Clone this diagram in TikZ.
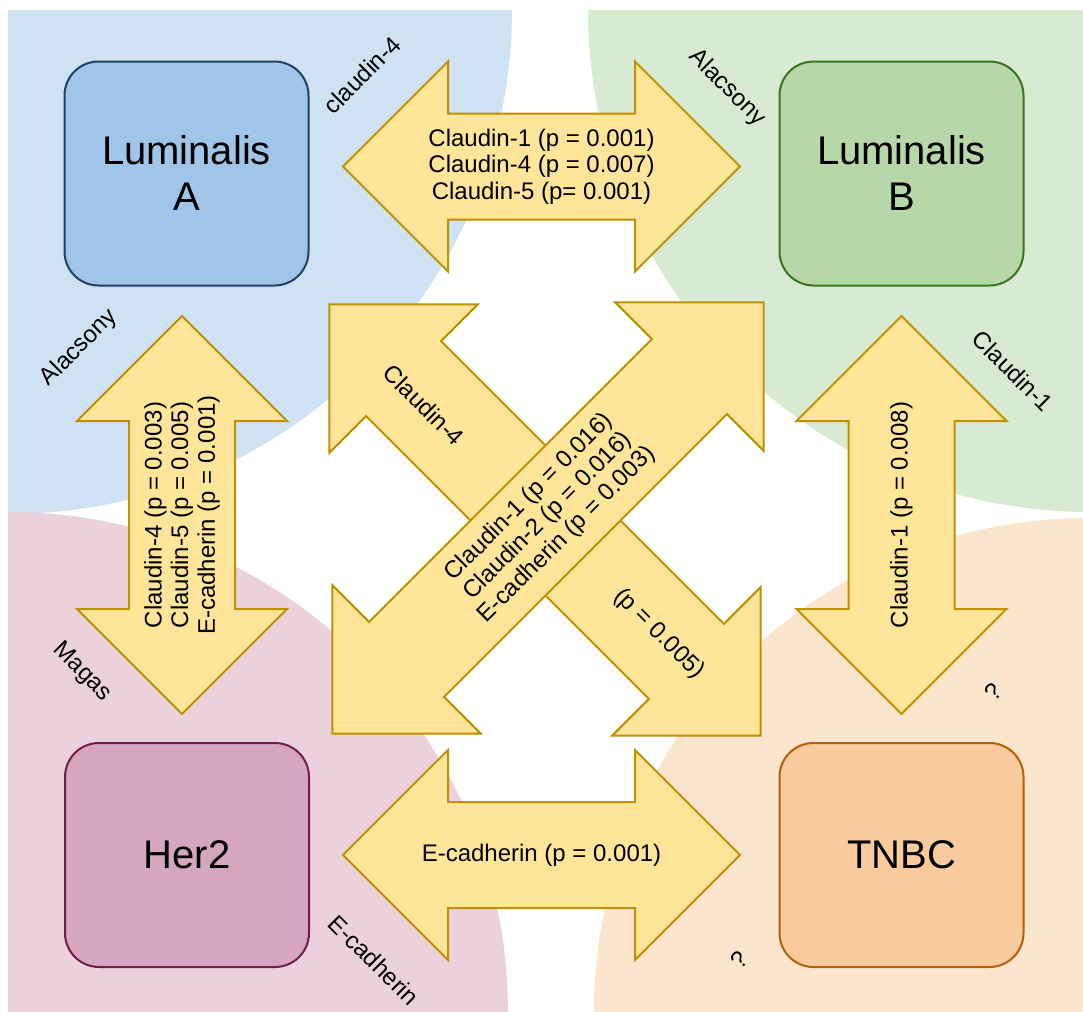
\documentclass[tikz,border=0pt]{standalone}
\usepackage{fontspec}
\setmainfont{Liberation Sans}
\definecolor{bgblue}{HTML}{CFE2F3}
\definecolor{bggreen}{HTML}{D9EAD3}
\definecolor{bgpink}{HTML}{EAD1DC}
\definecolor{bgorange}{HTML}{FCE5CD}
\definecolor{arrowfill}{HTML}{FFE599}
\definecolor{arrowline}{HTML}{BF9000}
\newcommand\dblarrow[3]{% centre, angle, half length
  \draw[arrowbody, shift={#1}, rotate=#2]
    (-#3,0) -- ({-#3+105},-105) -- ({-#3+105},-53) -- ({#3-105},-53)
    -- ({#3-105},-105) -- (#3,0) -- ({#3-105},105) -- ({#3-105},53)
    -- ({-#3+105},53) -- ({-#3+105},105) -- cycle;}
\begin{document}
\begin{tikzpicture}[x=0.5pt, y=-0.5pt,
  box/.style = {shape=rectangle, rounded corners=17pt, draw, line width=1pt,
    minimum width=122pt, minimum height=112pt, align=center,
    font=\fontsize{20}{23}\selectfont},
  arrowbody/.style = {draw=arrowline, fill=arrowfill, line width=1pt},
  txt/.style = {align=center, inner sep=0pt, font=\fontsize{12}{13.3}\selectfont}]
  \useasboundingbox (0,0) rectangle (1083,1012);
  % background quarters
  \begin{scope}
    \clip (8,10) rectangle (1083,1012);
    \fill[bgblue] (8,10) circle[radius=504];
    \fill[bggreen] (1090,10) circle[radius=502];
    \fill[bgpink] (8,1012) circle[radius=500];
    \fill[bgorange] (1088,1012) circle[radius=494];
  \end{scope}
  % subtypes
  \node[box, fill={rgb,255:red,159;green,197;blue,232}, draw={rgb,255:red,31;green,65;blue,102}]
    (lumA) at (186.5,173.5) {Luminalis\\A};
  \node[box, fill={rgb,255:red,182;green,215;blue,168}, draw={rgb,255:red,56;green,118;blue,29}]
    (lumB) at (901.5,173.5) {Luminalis\\B};
  \node[box, fill={rgb,255:red,213;green,166;blue,189}, draw={rgb,255:red,116;green,27;blue,71}]
    (her2) at (187,855) {Her2};
  \node[box, fill={rgb,255:red,249;green,203;blue,156}, draw={rgb,255:red,180;green,95;blue,6}]
    (tnbc) at (901.5,855) {TNBC};
  % block arrows
  \dblarrow{(541.5,166.5)}{0}{198.5}
  \dblarrow{(541.5,855)}{0}{198.5}
  \dblarrow{(182,515)}{90}{199}
  \dblarrow{(901.5,515)}{90}{199}
  \dblarrow{(545,520)}{-45}{305}
  \dblarrow{(548,518)}{45}{305}
  % arrow texts
  \node[txt] (tAB) at (541.5,166.5) {Claudin-1 (p = 0.001)\\Claudin-4 (p = 0.007)\\Claudin-5 (p= 0.001)};
  \node[txt] (tHT) at (541.5,855) {E-cadherin (p = 0.001)};
  \node[txt, rotate=90] (tAH) at (182,515) {Claudin-4 (p = 0.003)\\Claudin-5 (p = 0.005)\\E-cadherin (p = 0.001)};
  \node[txt, rotate=90] (tBT) at (901.5,515) {Claudin-1 (p = 0.008)};
  \node[txt, rotate=-45] (tAT1) at (424,405) {Claudin-4};
  \node[txt, rotate=-45] (tAT2) at (659,634) {(p = 0.005)};
  \node[txt, rotate=45] (tHB) at (548,516) {Claudin-1 (p = 0.016)\\Claudin-2 (p = 0.016)\\E-cadherin (p = 0.003)};
  % side labels
  \node[txt, rotate=45] (lA1) at (362,75) {claudin-4};
  \node[txt, rotate=-45] (lB1) at (727,88) {Alacsony};
  \node[txt, rotate=45] (lA2) at (79,348) {Alacsony};
  \node[txt, rotate=-45] (lB2) at (1013,371) {Claudin-1};
  \node[txt, rotate=-45] (lH1) at (82,672) {Magas};
  \node[txt, rotate=-45] (lH2) at (374,960) {E-cadherin};
  \node[txt, rotate=45] (lT1) at (993,692) {?};
  \node[txt, rotate=45] (lT2) at (739,960) {?};
\end{tikzpicture}
\end{document}
